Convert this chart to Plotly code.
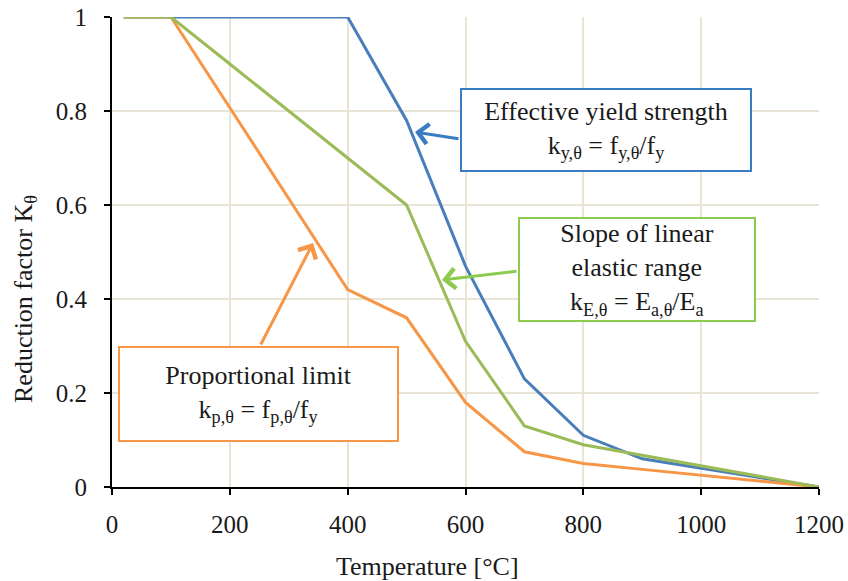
import plotly.graph_objects as go

temperature = [20, 100, 200, 300, 400, 500, 600, 700, 800, 900, 1000, 1100, 1200]
k_yield = [1, 1, 1, 1, 1, 0.78, 0.47, 0.23, 0.11, 0.06, 0.04, 0.02, 0]
k_prop = [1, 1, 0.807, 0.613, 0.42, 0.36, 0.18, 0.075, 0.05, 0.0375, 0.025, 0.0125, 0]
k_elastic = [1, 1, 0.9, 0.8, 0.7, 0.6, 0.31, 0.13, 0.09, 0.0675, 0.045, 0.0225, 0]

x_ticks = [0, 200, 400, 600, 800, 1000, 1200]
y_ticks = [0, 0.2, 0.4, 0.6, 0.8, 1]
y_tick_text = ["0", "0.2", "0.4", "0.6", "0.8", "1"]

BLUE = "#4A7EBB"
ORANGE = "#F79646"
GREEN = "#9BBB59"
GREEN_BOX = "#8CCB4E"
BLUE_BOX = "#3A7CC4"
FONT = "'Liberation Serif', 'Times New Roman', 'DejaVu Serif', serif"
GRID = "#E8E4D6"
TXT = "#1a1a1a"

fig = go.Figure()
fig.add_trace(go.Scatter(x=temperature, y=k_yield, mode="lines",
                         line=dict(color=BLUE, width=3), name="ky"))
fig.add_trace(go.Scatter(x=temperature, y=k_prop, mode="lines",
                         line=dict(color=ORANGE, width=3), name="kp"))
fig.add_trace(go.Scatter(x=temperature, y=k_elastic, mode="lines",
                         line=dict(color=GREEN, width=3), name="kE"))

ann_font = dict(family=FONT, size=26, color=TXT)

annotations = [
    # boxes
    dict(x=838.5, y=0.760, xref="x", yref="y", showarrow=False,
         text="Effective yield strength<br>k<sub>y,θ</sub> = f<sub>y,θ</sub>/f<sub>y</sub>",
         width=288, height=80, borderpad=0, bordercolor=BLUE_BOX, borderwidth=2,
         bgcolor="white", font=ann_font, align="center"),
    dict(x=891, y=0.4628, xref="x", yref="y", showarrow=False,
         text="Slope of linear<br>elastic range<br>k<sub>E,θ</sub> = E<sub>a,θ</sub>/E<sub>a</sub>",
         width=234, height=101, borderpad=0, bordercolor=GREEN_BOX, borderwidth=2,
         bgcolor="white", font=ann_font, align="center"),
    dict(x=248.7, y=0.198, xref="x", yref="y", showarrow=False,
         text="Proportional limit<br>k<sub>p,θ</sub> = f<sub>p,θ</sub>/f<sub>y</sub>",
         width=277, height=92, borderpad=0, bordercolor=ORANGE, borderwidth=2,
         bgcolor="white", font=ann_font, align="center"),
    # arrows
    dict(x=514.3, y=0.7553, ax=590.7, ay=0.7404, xref="x", yref="y", axref="x", ayref="y",
         text="", showarrow=True, arrowhead=4, arrowsize=1.3, arrowwidth=3, arrowcolor=BLUE_BOX),
    dict(x=560.1, y=0.4404, ax=689.1, ay=0.4596, xref="x", yref="y", axref="x", ayref="y",
         text="", showarrow=True, arrowhead=4, arrowsize=1.3, arrowwidth=3, arrowcolor=GREEN_BOX),
    dict(x=341.2, y=0.519, ax=251.2, ay=0.300, xref="x", yref="y", axref="x", ayref="y",
         text="", showarrow=True, arrowhead=4, arrowsize=1.3, arrowwidth=3, arrowcolor=ORANGE),
    # axis titles
    dict(x=(427 - 112) / 707, y=-(566 - 487) / 470, xref="paper", yref="paper", showarrow=False,
         text="Temperature [°C]", font=dict(family=FONT, size=26, color=TXT),
         xanchor="center", yanchor="middle"),
    dict(x=-(112 - 25) / 707, y=(487 - 299) / 470, xref="paper", yref="paper", showarrow=False,
         text="Reduction factor K<sub>θ</sub>", textangle=-90,
         font=dict(family=FONT, size=26, color=TXT),
         xanchor="center", yanchor="middle"),
]

fig.update_layout(
    width=848, height=581,
    margin=dict(l=112, r=29, t=17, b=94, autoexpand=False),
    paper_bgcolor="white", plot_bgcolor="white",
    showlegend=False,
    font=dict(family=FONT, size=25, color=TXT),
    annotations=annotations,
)
fig.update_xaxes(range=[0, 1200], tickvals=x_ticks, showgrid=True, gridcolor=GRID, gridwidth=1.5,
                 showline=True, linecolor="black", linewidth=2, ticks="outside", ticklen=6,
                 tickwidth=2, tickcolor="black", zeroline=False, ticklabelstandoff=8,
                 automargin=False, tickfont=dict(family=FONT, size=25, color=TXT))
fig.update_yaxes(range=[0, 1], tickvals=y_ticks, ticktext=y_tick_text, showgrid=True,
                 gridcolor=GRID, gridwidth=1.5, showline=True, linecolor="black", linewidth=2,
                 ticks="outside", ticklen=6, tickwidth=2, tickcolor="black", zeroline=False,
                 ticklabelstandoff=12, automargin=False,
                 tickfont=dict(family=FONT, size=25, color=TXT))

fig.write_html("out.html")
